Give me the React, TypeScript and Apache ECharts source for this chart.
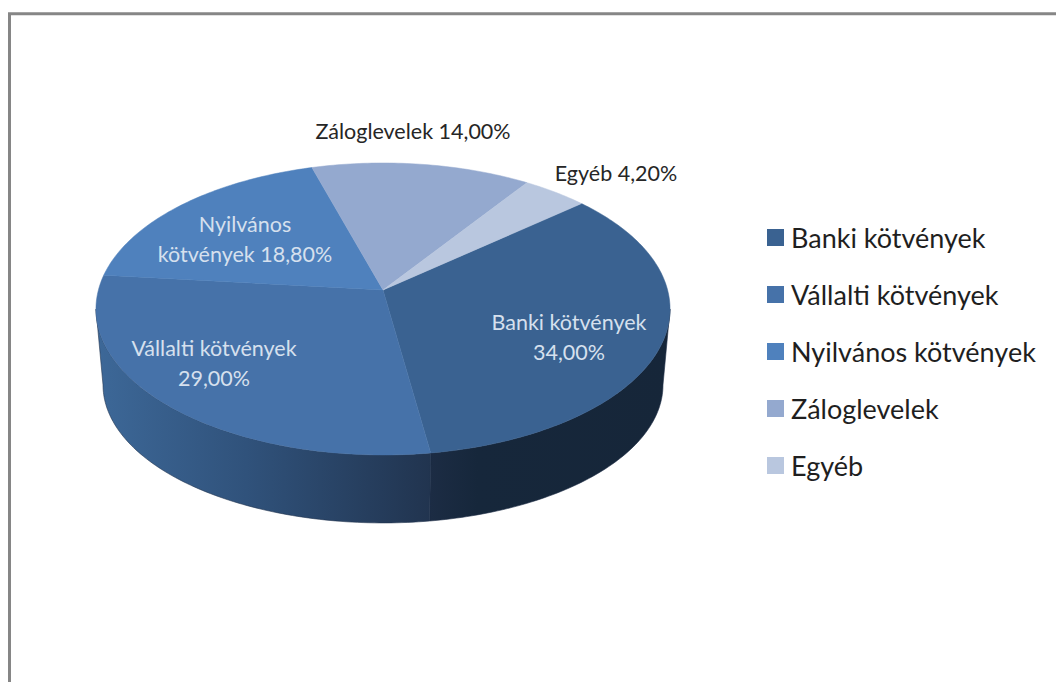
import React, { useEffect, useRef } from "react";
import * as echarts from "echarts";

const categories = ["Banki kötvények", "Vállalti kötvények", "Nyilvános kötvények", "Záloglevelek", "Egyéb"];
const shares = [34.0, 29.0, 18.8, 14.0, 4.2];
const labelLines = [
  ["Banki kötvények", "34,00%"],
  ["Vállalti kötvények", "29,00%"],
  ["Nyilvános", "kötvények 18,80%"],
  ["Záloglevelek 14,00%"],
  ["Egyéb 4,20%"],
];
const topColors = ["#3a6291", "#4672a9", "#4f81bd", "#94a9cf", "#b9c7df"];
const labelColors = ["#d6e0ee", "#d6e0ee", "#d6e0ee", "#262626", "#262626"];
const labelCenters = [[569, 337], [214, 363], [245, 239], [413, 131], [616, 173]];
const sideStops: Array<Array<[number, string]> | null> = [
  [[0, "#1c2c44"], [0.2, "#16273b"], [1, "#162639"]],
  [[0, "#3d6898"], [0.45, "#30527b"], [1, "#21344f"]],
  null, null, null,
];
const sideLimits: Array<[number, number] | null> = [[7.5, 90], [0, 172.5], null, null, null];

const START_DEG = -40.8;
const TOP = { cx: 383, cy: 309, a: 284.6, b: 146, c: -19, k: 0.13 };
const BOTTOM = { cx: 383, cy: 385, a: 277.6, b: 138, c: -18, k: 0.13 };
type Rim = typeof TOP;

function project(deg: number, r: Rim): [number, number] {
  const t = (deg * Math.PI) / 180;
  const x = Math.cos(t);
  const y = Math.sin(t);
  const w = 1 - r.k * y;
  return [r.cx + (r.a * x) / w, r.cy + (r.b * y + r.c) / w];
}

function arc(from: number, to: number, r: Rim): [number, number][] {
  const n = Math.max(2, Math.ceil(Math.abs(to - from)));
  const pts: [number, number][] = [];
  for (let i = 0; i <= n; i++) pts.push(project(from + ((to - from) * i) / n, r));
  return pts;
}

export default function App() {
  const ref = useRef<HTMLDivElement>(null);
  useEffect(() => {
    const chart = echarts.init(ref.current!, null, { renderer: "svg" });
    const total = shares.reduce((s, v) => s + v, 0);
    let acc = START_DEG;
    const spans = shares.map((v) => {
      const s = acc;
      acc += (v / total) * 360;
      return [s, acc];
    });
    const series = categories.map((name, i) => ({
      type: "custom",
      name,
      coordinateSystem: "none",
      itemStyle: { color: topColors[i] },
      data: [[shares[i]]],
      silent: true,
      renderItem: () => {
        const [s, e] = spans[i];
        const children: any[] = [];
        const limit = sideLimits[i];
        const stops = sideStops[i];
        if (limit && stops) {
          const from = Math.max(s, limit[0]);
          const to = Math.min(e, limit[1]);
          const upper = arc(from, to, TOP);
          const lower = arc(to, from, BOTTOM);
          const xs = upper.map((p) => p[0]).concat(lower.map((p) => p[0]));
          const minX = Math.min(...xs);
          const maxX = Math.max(...xs);
          children.push({
            type: "polygon",
            shape: { points: upper.concat(lower) },
            style: {
              fill: new echarts.graphic.LinearGradient(
                minX, 0, maxX, 0,
                stops.map(([o, c]) => ({ offset: o, color: c })),
                true
              ),
              stroke: stops[i === 0 ? 0 : stops.length - 1][1],
              lineWidth: 0.6,
            },
          });
        }
        const apex = project(0, { ...TOP, a: 0, b: 0, k: 0 });
        children.push({
          type: "polygon",
          shape: { points: [apex as [number, number]].concat(arc(s, e, TOP)) },
          style: { fill: topColors[i], stroke: topColors[i], lineWidth: 0.5 },
        });
        return { type: "group", children };
      },
    }));
    const labels = categories.map((_, i) => ({
      type: "text",
      z: 10,
      x: labelCenters[i][0],
      y: labelCenters[i][1],
      style: {
        text: labelLines[i].join("\n"),
        fill: labelColors[i],
        font: '21.5px Lato, "Noto Sans", sans-serif',
        align: "center",
        verticalAlign: "middle",
        lineHeight: 30,
      },
    }));
    chart.setOption({
      animation: false,
      backgroundColor: "#ffffff",
      color: topColors,
      legend: {
        data: categories,
        orient: "vertical",
        left: 762,
        top: 219,
        itemWidth: 17,
        itemHeight: 17,
        itemGap: 30,
        selectedMode: false,
        icon: "rect",
        textStyle: { fontFamily: 'Lato, "Noto Sans", sans-serif', fontSize: 27, color: "#1f1f1f", padding: [0, 0, 0, 2] },
      },
      graphic: [
        {
          type: "polyline",
          shape: { points: [[9.5, 682], [9.5, 13.75], [1056, 13.75]] },
          style: { stroke: "#868686", lineWidth: 3, fill: "none" },
        },
        ...labels,
      ],
      series,
    });
    return () => chart.dispose();
  }, []);
  return <div ref={ref} style={{ position: "absolute", left: 0, top: 0, width: 1056, height: 682 }} />;
}
